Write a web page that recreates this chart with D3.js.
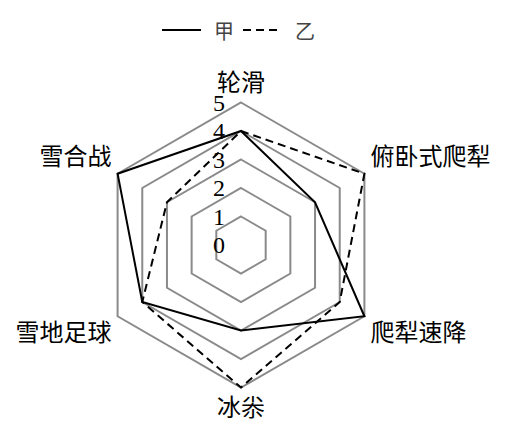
<!DOCTYPE html>
<html><head><meta charset="utf-8">
<script src="https://cdn.jsdelivr.net/npm/d3@7"></script>
<style>body{margin:0;background:#fff}svg{display:block}</style>
</head><body>
<svg id="c" width="506" height="427"></svg>
<script>
const categories = ["轮滑","俯卧式爬犁","爬犁速降","冰尜","雪地足球","雪合战"];
const seriesNames = ["甲","乙"];
const seriesJia = [4,3,5,3,4,5];
const seriesYi = [4,5,4,5,4,3];
const tickLabels = [0,1,2,3,4,5];

const svg = d3.select("#c");
const cx = 241, cy = 245, R = 142.5;
const r = d3.scaleLinear().domain([0,5]).range([0,R]);
const n = categories.length;
const ang = i => -Math.PI/2 + i*2*Math.PI/n;
const pt = (i,v) => [cx + r(v)*Math.cos(ang(i)), cy + r(v)*Math.sin(ang(i))];

// grid
const gridLine = d3.line().curve(d3.curveLinearClosed);
svg.append("g").selectAll("path").data(tickLabels.slice(1)).join("path")
  .attr("d", t => gridLine(d3.range(n).map(i => pt(i,t))))
  .attr("fill","none").attr("stroke","#8a8a8a").attr("stroke-width",2);

// series
const series = [{name:seriesNames[0], vals:seriesJia, dash:null},
                {name:seriesNames[1], vals:seriesYi, dash:"8,5"}];
svg.append("g").selectAll("path").data(series).join("path")
  .attr("d", s => gridLine(s.vals.map((v,i) => pt(i,v))))
  .attr("fill","none").attr("stroke","#000").attr("stroke-width",2)
  .attr("stroke-linejoin","miter")
  .attr("stroke-dasharray", s => s.dash);

// tick labels
svg.append("g").selectAll("text").data(tickLabels).join("text")
  .attr("x", cx - 16).attr("y", t => cy - r(t))
  .attr("text-anchor","end").attr("dominant-baseline","central")
  .attr("font-family","'Liberation Serif','Times New Roman',serif").attr("font-size",24)
  .attr("fill","#000").text(t => t);

// category labels
svg.append("g").selectAll("text").data(categories).join("text")
  .each(function(c,i){
    const a = ang(i), co = Math.cos(a), si = Math.sin(a);
    const [x,y] = pt(i,5);
    const t = d3.select(this);
    t.attr("x", x + 7*co).attr("y", y + 7*si);
    t.attr("text-anchor", Math.abs(co) < 0.01 ? "middle" : (co > 0 ? "start" : "end"));
    t.attr("dominant-baseline", si < 0 ? "text-after-edge" : "text-before-edge");
  })
  .attr("font-family","'Liberation Serif','Noto Sans CJK SC',serif").attr("font-size",24)
  .attr("fill","#000").text(c => c);

// legend
const lg = svg.append("g");
const legendX = [162, 243];
series.forEach((s,k) => {
  const x0 = legendX[k];
  lg.append("line").attr("x1",x0).attr("x2",x0+39).attr("y1",30).attr("y2",30)
    .attr("stroke","#000").attr("stroke-width",2).attr("stroke-dasharray", s.dash);
  lg.append("text").attr("x", x0+52).attr("y",30).attr("dominant-baseline","central")
    .attr("font-family","'Noto Sans CJK SC',sans-serif").attr("font-size",20)
    .attr("fill","#444").text(s.name);
});
</script>
</body></html>
